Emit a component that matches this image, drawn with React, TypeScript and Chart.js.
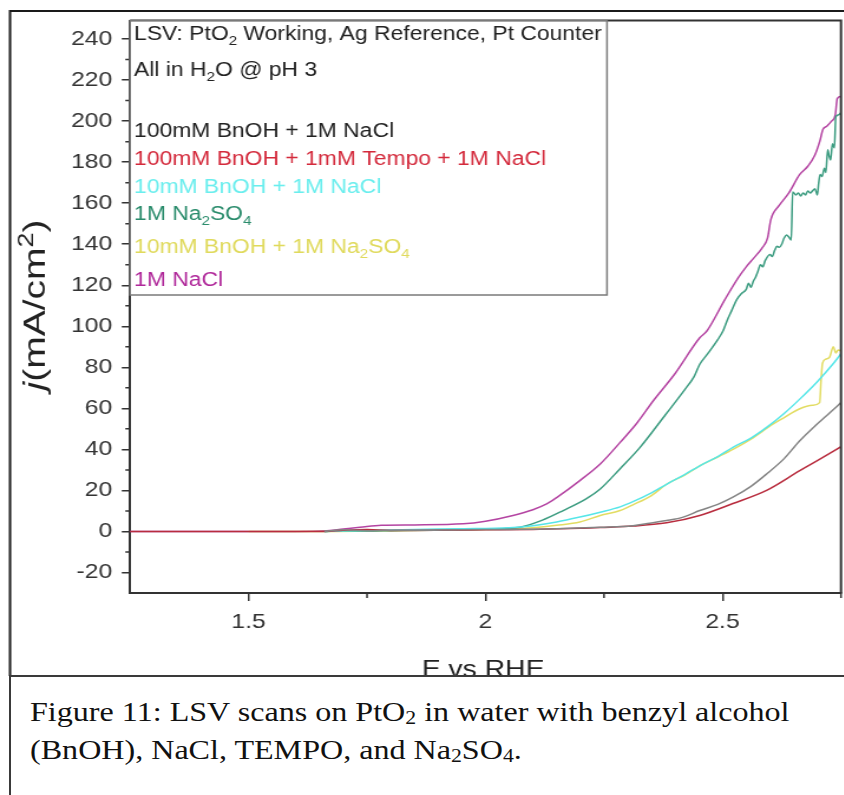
import React, { useEffect, useRef } from "react";
import { Chart, registerables } from "chart.js";

Chart.register(...registerables);

// Figure is laid out in a narrower canvas and stretched horizontally.
const X_STRETCH = 1.18;
const CANVAS_W = 715;
const CANVAS_H = 676;

// Potential E (V vs RHE) and current density j (mA/cm²) per electrolyte
const eBnOH100NaCl = [1.66, 1.7, 1.75, 1.8, 1.85, 1.95, 2.05, 2.15, 2.242, 2.311, 2.346, 2.382, 2.417, 2.452, 2.49, 2.522, 2.56, 2.593, 2.63, 2.663, 2.698, 2.72, 2.75];
const jBnOH100NaCl = [0, 0.8, 0.4, 0.6, 0.5, 0.8, 1.0, 1.3, 2.0, 2.8, 4.0, 5.3, 7.0, 10.2, 13.2, 16.7, 22.0, 28.0, 35.5, 44.2, 52.0, 56.5, 62.8];

const eBnOH100Tempo = [1.25, 1.4, 1.5, 1.6, 1.66, 1.7, 1.75, 1.8, 1.9, 2.0, 2.1, 2.2, 2.242, 2.311, 2.382, 2.452, 2.522, 2.593, 2.663, 2.7, 2.75];
const jBnOH100Tempo = [0, 0, 0, 0, 0, 0.6, 0.9, 0.5, 0.6, 0.8, 1.0, 1.5, 1.9, 2.6, 4.2, 7.8, 13.6, 20.0, 29.6, 34.5, 41.3];

const eBnOH10NaCl = [1.66, 1.75, 1.85, 1.95, 2.05, 2.1, 2.15, 2.199, 2.242, 2.284, 2.311, 2.35, 2.382, 2.42, 2.452, 2.49, 2.522, 2.56, 2.593, 2.63, 2.663, 2.7, 2.733, 2.75];
const jBnOH10NaCl = [0, 0.5, 1.0, 1.3, 1.8, 2.8, 4.6, 7.0, 9.4, 12.0, 14.5, 18.8, 23.0, 27.7, 32.0, 36.5, 41.0, 45.5, 50.7, 57.5, 64.5, 73.0, 81.6, 86.6];

const eNa2SO4 = [1.66, 1.7, 1.75, 1.8, 1.9, 2.0, 2.073, 2.12, 2.164, 2.213, 2.242, 2.284, 2.326, 2.38, 2.42, 2.44, 2.452, 2.47, 2.49, 2.501, 2.51, 2.52, 2.53, 2.54, 2.55, 2.555, 2.56, 2.565, 2.57, 2.575, 2.58, 2.585, 2.59, 2.6, 2.605, 2.61, 2.615, 2.62, 2.625, 2.63, 2.635, 2.64, 2.645, 2.648, 2.655, 2.66, 2.665, 2.67, 2.675, 2.68, 2.685, 2.69, 2.695, 2.7, 2.703, 2.706, 2.71, 2.715, 2.718, 2.722, 2.725, 2.728, 2.732, 2.736, 2.739, 2.744, 2.75];
const jNa2SO4 = [0, 0.3, 0.2, 0.4, 0.8, 1.2, 2.1, 5.5, 10.2, 16.0, 20.7, 30.6, 41.0, 57.0, 69.0, 75.5, 81.5, 87.0, 93.5, 97.7, 103, 108, 113, 116, 118, 121, 119, 122, 124, 127, 130, 129, 132, 135, 134, 137, 139, 138.5, 140, 143, 144.5, 143.5, 142, 165.5, 164, 165, 163.5, 165, 164, 166, 165, 166, 167, 164, 170, 174, 173, 177, 175, 186, 183, 181, 189, 187, 202, 203, 204];

const eBnOH10Na2SO4 = [1.5, 1.6, 1.66, 1.75, 1.85, 1.95, 2.05, 2.1, 2.15, 2.199, 2.242, 2.284, 2.311, 2.35, 2.382, 2.42, 2.452, 2.49, 2.522, 2.56, 2.607, 2.63, 2.663, 2.69, 2.705, 2.708, 2.711, 2.718, 2.726, 2.734, 2.739, 2.744, 2.75];
const jBnOH10Na2SO4 = [0, 0, 0, 0.2, 0.5, 0.8, 1.2, 1.8, 3.0, 4.6, 7.8, 10.2, 13.0, 17.5, 23.0, 27.5, 32.0, 36.3, 40.0, 45.0, 52.4, 55.5, 59.8, 61.5, 62.8, 74.0, 82.0, 84.0, 85.0, 90.0, 87.0, 88.5, 88.0];

const eNaCl = [1.25, 1.4, 1.5, 1.6, 1.66, 1.7, 1.735, 1.78, 1.85, 1.953, 2.0, 2.058, 2.1, 2.129, 2.15, 2.199, 2.242, 2.284, 2.32, 2.354, 2.4, 2.452, 2.467, 2.505, 2.533, 2.55, 2.565, 2.583, 2.595, 2.602, 2.62, 2.64, 2.663, 2.68, 2.695, 2.705, 2.712, 2.72, 2.73, 2.738, 2.742, 2.75];
const jNaCl = [0, 0, 0, 0, 0.3, 1.2, 2.0, 3.0, 3.2, 3.7, 5.0, 7.8, 10.6, 13.4, 16.5, 24.8, 32.9, 43.4, 53.0, 63.7, 77.0, 94.4, 97.7, 113, 123.6, 129, 133, 138, 143, 152, 159, 165, 174, 178, 183.5, 190, 196, 197.5, 200, 203, 211, 212];

const seriesE = [eBnOH100NaCl, eBnOH100Tempo, eBnOH10NaCl, eNa2SO4, eBnOH10Na2SO4, eNaCl];
const seriesJ = [jBnOH100NaCl, jBnOH100Tempo, jBnOH10NaCl, jNa2SO4, jBnOH10Na2SO4, jNaCl];
const lineColors = ["#848484", "#b82c3e", "#56e6e8", "#3c9c80", "#e2dc62", "#b444a2"];
const textColors = ["#222222", "#d42a3c", "#6aeeee", "#2a8c6c", "#e0da5c", "#b0289a"];

type Run = { t: string; sub?: boolean; sup?: boolean; italic?: boolean };
const seriesLabels: Run[][] = [
  [{ t: "100mM BnOH + 1M NaCl" }],
  [{ t: "100mM BnOH + 1mM Tempo + 1M NaCl" }],
  [{ t: "10mM BnOH + 1M NaCl" }],
  [{ t: "1M Na" }, { t: "2", sub: true }, { t: "SO" }, { t: "4", sub: true }],
  [{ t: "10mM BnOH + 1M Na" }, { t: "2", sub: true }, { t: "SO" }, { t: "4", sub: true }],
  [{ t: "1M NaCl" }],
];
const headerLines: Run[][] = [
  [{ t: "LSV: PtO" }, { t: "2", sub: true }, { t: " Working, Ag Reference, Pt Counter" }],
  [{ t: "All in H" }, { t: "2", sub: true }, { t: "O @ pH 3" }],
];
const yTitle: Run[] = [{ t: "j", italic: true }, { t: "(mA/cm" }, { t: "2", sup: true }, { t: ")" }];
const xTitle = "E vs RHE";

const xTickValues = [1.5, 2, 2.5];
const xMinorValues = [1.75, 2.25, 2.75];
const yTickValues = [-20, 0, 20, 40, 60, 80, 100, 120, 140, 160, 180, 200, 220, 240];
const yMinorValues = [-10, 10, 30, 50, 70, 90, 110, 130, 150, 170, 190, 210, 230];

const SANS = '"Liberation Sans", Arial, sans-serif';
const AXIS = "#333333";
const LEGEND_SIZE = 19.4;

function runFont(r: Run, size: number) {
  const s = r.sub || r.sup ? Math.round(size * 0.68) : size;
  return `${r.italic ? "italic " : ""}${s}px ${SANS}`;
}

function runsWidth(ctx: CanvasRenderingContext2D, runs: Run[], size: number) {
  let w = 0;
  for (const r of runs) {
    ctx.font = runFont(r, size);
    w += ctx.measureText(r.t).width;
  }
  return w;
}

function drawRuns(ctx: CanvasRenderingContext2D, runs: Run[], x: number, y: number, size: number, color: string) {
  ctx.fillStyle = color;
  ctx.textBaseline = "alphabetic";
  ctx.textAlign = "left";
  let cx = x;
  for (const r of runs) {
    ctx.font = runFont(r, size);
    const dy = r.sub ? size * 0.28 : r.sup ? -size * 0.4 : 0;
    ctx.fillText(r.t, cx, y + dy);
    cx += ctx.measureText(r.t).width;
  }
}

const decorPlugin = {
  id: "lsvDecor",
  afterDraw(chart: any) {
    const ctx: CanvasRenderingContext2D = chart.ctx;
    const { left, right, top, bottom } = chart.chartArea;
    const xs = chart.scales.x;
    const ys = chart.scales.y;
    ctx.save();

    // top and right sides of the plot frame
    ctx.strokeStyle = AXIS;
    ctx.lineWidth = 2;
    ctx.beginPath();
    ctx.moveTo(left, top);
    ctx.lineTo(right, top);
    ctx.lineTo(right, bottom);
    ctx.stroke();

    // minor ticks
    ctx.lineWidth = 1.5;
    ctx.beginPath();
    for (const v of yMinorValues) {
      const y = ys.getPixelForValue(v);
      ctx.moveTo(left, y);
      ctx.lineTo(left - 4, y);
    }
    for (const v of xMinorValues) {
      const x = xs.getPixelForValue(v);
      ctx.moveTo(x, bottom);
      ctx.lineTo(x, bottom + 5);
    }
    ctx.stroke();

    // outer figure frame
    ctx.strokeStyle = "#1a1a1a";
    ctx.lineWidth = 2;
    ctx.beginPath();
    ctx.moveTo(8.5, chart.height);
    ctx.lineTo(8.5, 11);
    ctx.lineTo(chart.width, 11);
    ctx.stroke();

    // legend box
    const bx = left;
    const by = top;
    const bw = 514.4 - left;
    const bh = 295 - top;
    ctx.fillStyle = "#ffffff";
    ctx.fillRect(bx + 1, by + 1, bw - 1, bh - 1);
    ctx.strokeStyle = "#7a7a7a";
    ctx.lineWidth = 1.5;
    ctx.strokeRect(bx, by, bw, bh);

    const tx = 113.6;
    drawRuns(ctx, headerLines[0], tx, 40, LEGEND_SIZE, "#222222");
    drawRuns(ctx, headerLines[1], tx, 76, LEGEND_SIZE, "#222222");
    const baselines = [136.5, 165, 192.5, 220, 253, 286];
    seriesLabels.forEach((runs, i) => drawRuns(ctx, runs, tx, baselines[i], LEGEND_SIZE, textColors[i]));

    // axis titles
    ctx.font = `24px ${SANS}`;
    ctx.fillStyle = "#222222";
    ctx.textAlign = "center";
    ctx.textBaseline = "alphabetic";
    ctx.fillText(xTitle, (left + right) / 2 - 2, 677);

    const yw = runsWidth(ctx, yTitle, 26);
    ctx.save();
    ctx.translate(38, 305);
    ctx.rotate(-Math.PI / 2);
    ctx.scale(1.5, 1);
    drawRuns(ctx, yTitle, -yw / 2, 0, 26, "#222222");
    ctx.restore();

    ctx.restore();
  },
};

export default function App() {
  const canvasRef = useRef<HTMLCanvasElement | null>(null);

  useEffect(() => {
    const canvas = canvasRef.current;
    if (!canvas) return;
    const datasets = seriesE.map((es, i) => ({
      label: seriesLabels[i].map((r) => r.t).join(""),
      data: es.map((e, k) => ({ x: e, y: seriesJ[i][k] })),
      borderColor: lineColors[i],
      backgroundColor: lineColors[i],
      borderWidth: 1.5,
      pointRadius: 0,
      cubicInterpolationMode: "monotone",
      fill: false,
    }));

    const tickFont = { family: SANS, size: 21 };
    const chart = new Chart(canvas, {
      type: "line",
      data: { datasets },
      options: {
        animation: false,
        responsive: false,
        devicePixelRatio: 1,
        layout: { padding: { top: 18, right: 2.3, bottom: 0, left: 0 } },
        plugins: { legend: { display: false }, tooltip: { enabled: false } },
        scales: {
          x: {
            type: "linear",
            min: 1.25,
            max: 2.75,
            afterFit: (s: any) => {
              s.height = 83;
            },
            afterBuildTicks: (s: any) => {
              s.ticks = xTickValues.map((v) => ({ value: v }));
            },
            ticks: { font: tickFont, color: AXIS, padding: 9, maxRotation: 0, callback: (v: any) => String(v) },
            grid: { display: true, drawOnChartArea: false, drawTicks: true, tickLength: 8, color: AXIS, lineWidth: 1.5 },
            border: { display: true, color: AXIS, width: 2 },
          },
          y: {
            type: "linear",
            min: -30,
            max: 249,
            afterFit: (s: any) => {
              s.width = 110.2;
            },
            afterBuildTicks: (s: any) => {
              s.ticks = yTickValues.map((v) => ({ value: v }));
            },
            ticks: { font: tickFont, color: AXIS, padding: 8, callback: (v: any) => String(v) },
            grid: { display: true, drawOnChartArea: false, drawTicks: true, tickLength: 7, color: AXIS, lineWidth: 1.5 },
            border: { display: true, color: AXIS, width: 2 },
          },
        },
      } as any,
      plugins: [decorPlugin],
    });
    return () => chart.destroy();
  }, []);

  const subStyle = { fontSize: 19, verticalAlign: "-3px", lineHeight: 0 } as const;

  return (
    <div style={{ position: "fixed", left: 0, top: 0, width: 844, height: 795, overflow: "hidden", background: "#ffffff" }}>
      <div style={{ position: "absolute", left: 0, top: 0, width: CANVAS_W, height: CANVAS_H, transform: `scaleX(${X_STRETCH})`, transformOrigin: "0 0" }}>
        <canvas ref={canvasRef} width={CANVAS_W} height={CANVAS_H} style={{ display: "block" }} />
      </div>
      <div
        style={{
          position: "absolute",
          left: 9,
          top: 675,
          width: 860,
          height: 140,
          background: "#ffffff",
          borderTop: "2px solid #3a3a3a",
          borderLeft: "2px solid #3a3a3a",
        }}
      >
        <div
          style={{
            position: "absolute",
            left: 19,
            top: 16,
            whiteSpace: "nowrap",
            fontFamily: '"Liberation Serif", "Times New Roman", serif',
            fontSize: 28,
            lineHeight: "38px",
            color: "#111111",
            transform: "scaleX(1.146)",
            transformOrigin: "0 0",
          }}
        >
          Figure 11: LSV scans on PtO<sub style={subStyle}>2</sub> in water with benzyl alcohol
          <br />
          (BnOH), NaCl, TEMPO, and Na<sub style={subStyle}>2</sub>SO<sub style={subStyle}>4</sub>.
        </div>
      </div>
    </div>
  );
}
